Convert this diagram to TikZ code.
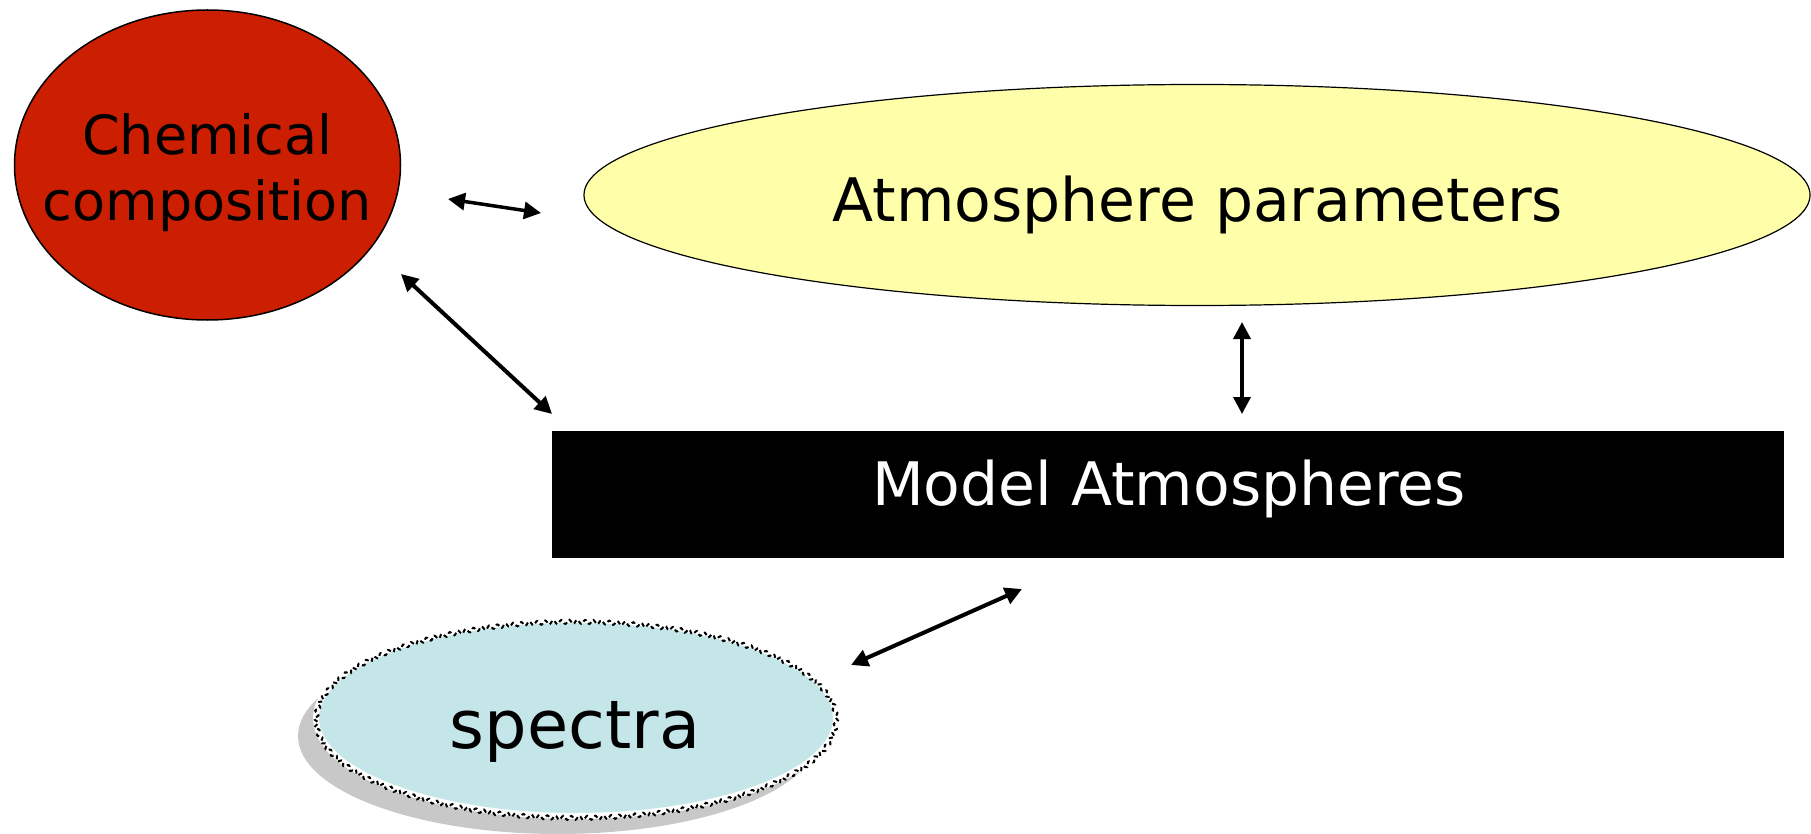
\documentclass[tikz,border=0pt]{standalone}
\usepackage{fontspec}
\setmainfont{DejaVu Sans}
\usetikzlibrary{shapes.geometric,arrows.meta,decorations.pathmorphing}

\definecolor{chemred}{RGB}{204,30,0}
\definecolor{paramyellow}{RGB}{255,255,170}
\definecolor{spectrablue}{RGB}{196,230,232}
\definecolor{shadowgray}{RGB}{200,200,200}

\tikzset{
  link/.style={line width=#1, {Triangle[length=17pt,width=17pt]}-{Triangle[length=17pt,width=17pt]}},
  link/.default=3.5pt,
  blob/.style={ellipse, inner sep=0pt, align=center},
}

\begin{document}
\begin{tikzpicture}[x=1pt, y=-1pt]
  \useasboundingbox (0,0) rectangle (1811,834);

  % Chemical composition
  \node[blob, draw=black, line width=1.5pt, fill=chemred,
        minimum width=386pt, minimum height=310pt] (chem) at (207.5,165) {};
  \node[font=\fontsize{54}{66}\selectfont, align=center, text=black] (chemtxt) at (207.5,173)
    {Chemical\\composition};

  % Atmosphere parameters
  \node[blob, draw=black, line width=1.2pt, fill=paramyellow,
        minimum width=1226pt, minimum height=221pt] (param) at (1197,195) {};
  \node[font=\fontsize{60}{72}\selectfont, anchor=base] (paramtxt) at (1198,222)
    {Atmosphere parameters};

  % Model Atmospheres
  \node[rectangle, fill=black, inner sep=0pt,
        minimum width=1232pt, minimum height=127pt] (model) at (1168,494.5) {};
  \node[font=\fontsize{60}{72}\selectfont, anchor=base, text=white] (modeltxt) at (1169,505)
    {Model Atmospheres};

  % spectra, with its drop shadow
  \node[blob, fill=shadowgray, minimum width=520pt, minimum height=196pt] (shadow) at (558,736) {};
  \node[blob, fill=spectrablue, minimum width=520pt, minimum height=196pt] (spectra) at (576,718) {};
  \draw[white, line width=6pt] (576,718) ellipse (260 and 98);
  \draw[black, line width=2pt, dash pattern=on 4pt off 3pt,
        decorate, decoration={snake, amplitude=2pt, segment length=8pt}]
        (576,718) ellipse (260 and 98);
  \node[font=\fontsize{67}{80}\selectfont, anchor=base] (spectratxt) at (575,748) {spectra};

  % connector end points
  \coordinate (c1a) at (448,199);
  \coordinate (c1b) at (541,213);
  \coordinate (c2a) at (401,274);
  \coordinate (c2b) at (552,414);
  \coordinate (c3a) at (1242,322);
  \coordinate (c3b) at (1242,414);
  \coordinate (c4a) at (851,665);
  \coordinate (c4b) at (1022,589);

  \draw[link=3.5pt] (c1a) -- (c1b);
  \draw[link=4pt] (c2a) -- (c2b);
  \draw[link=3.5pt] (c3a) -- (c3b);
  \draw[link=4pt] (c4a) -- (c4b);
\end{tikzpicture}
\end{document}
